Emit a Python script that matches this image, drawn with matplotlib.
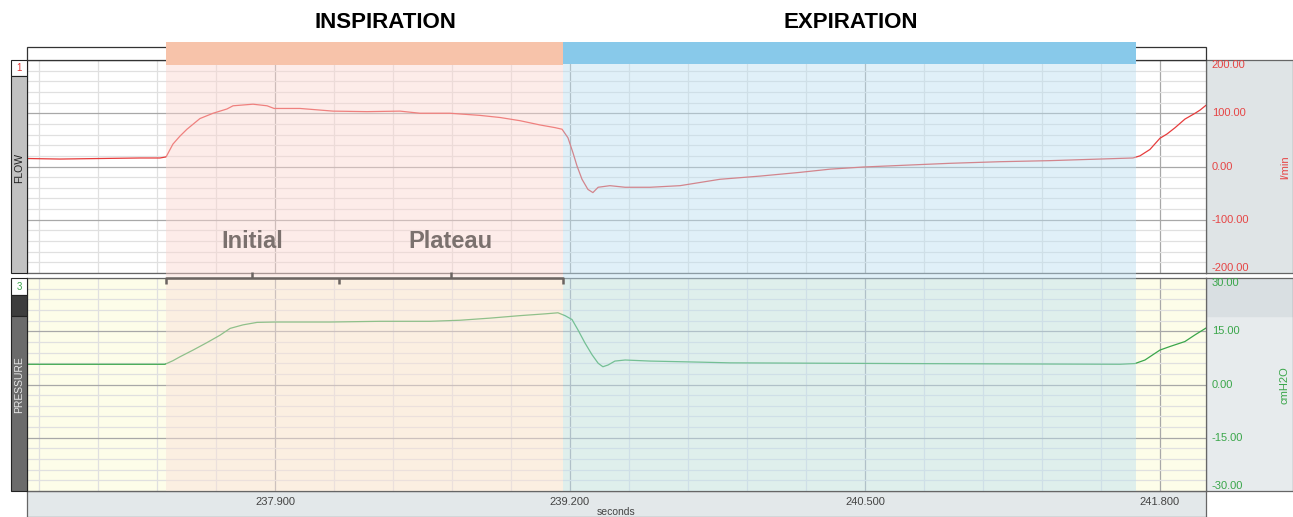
import matplotlib
matplotlib.use("Agg")
import matplotlib.pyplot as plt
from matplotlib.patches import Rectangle
from matplotlib.ticker import MultipleLocator, FixedLocator
from matplotlib.transforms import blended_transform_factory

plt.rcParams['font.family'] = ['Liberation Sans', 'DejaVu Sans']

flow_t = [236.807, 236.952, 237.129, 237.305, 237.393, 237.420, 237.450, 237.481,
          237.512, 237.569, 237.627, 237.688, 237.715, 237.803, 237.865, 237.896,
          238.010, 238.156, 238.305, 238.451, 238.539, 238.671, 238.803, 238.892,
          238.980, 239.068, 239.134, 239.165, 239.191, 239.213, 239.231, 239.253,
          239.279, 239.301, 239.324, 239.376, 239.443, 239.553, 239.685, 239.773,
          239.861, 240.038, 240.214, 240.346, 240.491, 240.655, 240.875, 241.095,
          241.316, 241.536, 241.681, 241.712, 241.756, 241.800, 241.831, 241.867,
          241.910, 241.955, 241.977, 242.003]
flow_v = [15, 14, 15, 16, 16, 18, 42, 57,
          70, 90, 100, 108, 114, 117, 114, 109,
          109, 104, 103, 104, 100, 100, 96, 92,
          86, 78, 73, 70, 54, 26, 1, -24,
          -43, -49, -39, -36, -39, -39, -36, -30,
          -24, -18, -11, -5, -1, 2, 6, 9,
          11, 14, 16, 20, 32, 53, 61, 73,
          89, 100, 106, 115]

pres_t = [236.807, 237.415, 237.450, 237.481, 237.539, 237.600, 237.658, 237.702,
          237.759, 237.821, 237.900, 238.142, 238.363, 238.583, 238.715, 238.848,
          238.980, 239.090, 239.147, 239.178, 239.209, 239.235, 239.266, 239.297,
          239.324, 239.345, 239.368, 239.398, 239.443, 239.553, 239.773, 239.905,
          240.655, 241.624, 241.690, 241.734, 241.800, 241.844, 241.910, 241.955,
          242.003]
pres_v = [5.7, 5.7, 6.7, 7.8, 9.7, 11.8, 13.9, 15.8,
          16.8, 17.5, 17.6, 17.6, 17.8, 17.8, 18.1, 18.7,
          19.4, 19.9, 20.2, 19.4, 18.3, 15.4, 11.7, 8.4,
          6.0, 5.0, 5.5, 6.6, 6.9, 6.6, 6.3, 6.1,
          5.9, 5.7, 5.9, 6.9, 9.7, 10.7, 12.1, 14.0,
          15.9]

# fases del ciclo (s)
insp_start, initial_end, insp_end, exp_end = 237.42, 238.18, 239.17, 241.695

time_ticks = [237.9, 239.2, 240.5, 241.8]
time_labels = ['237.900', '239.200', '240.500', '241.800']
flow_ticks = [200, 100, 0, -100, -200]
pres_ticks = [30, 15, 0, -15, -30]
x_range = (236.807, 242.003)

# --- figura en pixeles ---
W, H = 1293, 517
fig = plt.figure(figsize=(W / 100, H / 100), dpi=100)


def px_axes(l, t, r, b, **kw):
    return fig.add_axes([l / W, 1 - b / H, (r - l) / W, (b - t) / H], **kw)


def px_rect(l, t, r, b, fc, ec='none', lw=0.8, z=1):
    fig.add_artist(Rectangle((l / W, 1 - b / H), (r - l) / W, (b - t) / H,
                             transform=fig.transFigure, facecolor=fc,
                             edgecolor=ec, linewidth=lw, zorder=z))


def px_text(x, y, s, **kw):
    fig.text(x / W, 1 - y / H, s, **kw)


def blank(ax, fc):
    ax.set_facecolor(fc)
    ax.set_xticks([])
    ax.set_yticks([])
    for s in ax.spines.values():
        s.set_color('#666666')
        s.set_linewidth(0.9)


# paneles grises de la derecha y franja del eje x
blank(px_axes(1206, 60, 1293, 273), '#dfe4e6')
bg_p = px_axes(1206, 278, 1293, 491)
blank(bg_p, '#e7ebed')
bg_p.axhspan(0.82, 1.0, color='#d9dfe2')
bg_p.set_ylim(0, 1)
blank(px_axes(27, 491, 1206, 517), '#e3e8ea')

# franjas laterales con el nombre del canal
px_rect(11, 60, 27, 76, 'white', '#222222')
px_rect(11, 76, 27, 273, '#c2c2c2', '#222222')
px_text(19, 68, '1', color='#e03030', fontsize=7, ha='center', va='center')
px_text(19, 168, 'FLOW', color='#222222', fontsize=7.5, rotation=90, ha='center', va='center')
px_rect(11, 278, 27, 295, 'white', '#222222')
px_rect(11, 295, 27, 316, '#3d3d3d', '#222222')
px_rect(11, 316, 27, 491, '#6b6b6b', '#222222')
px_text(19, 287, '3', color='#3aa64a', fontsize=7, ha='center', va='center')
px_text(19, 385, 'PRESSURE', color='#e6e6e6', fontsize=7.5, rotation=90, ha='center', va='center')

# caja blanca superior
px_rect(27, 47, 1206, 60, 'white', '#333333', lw=0.9)


def setup(ax, ylim, major, minor, ticks, color, bg):
    ax.set_facecolor(bg)
    ax.set_xlim(x_range)
    ax.set_ylim(ylim)
    ax.xaxis.set_major_locator(FixedLocator(time_ticks))
    ax.xaxis.set_minor_locator(MultipleLocator(0.26))
    ax.yaxis.set_major_locator(MultipleLocator(major))
    ax.yaxis.set_minor_locator(MultipleLocator(minor))
    ax.grid(which='major', color='#a8a8a8', linewidth=0.9)
    ax.grid(which='minor', color='#e0e0e0', linewidth=0.9)
    ax.set_axisbelow(True)
    ax.tick_params(which='both', length=0, labelleft=False, labelbottom=False)
    for s in ax.spines.values():
        s.set_color('#666666')
        s.set_linewidth(0.9)
    tr = blended_transform_factory(ax.transAxes, ax.transData)
    for i, v in enumerate(ticks):
        va = 'top' if i == 0 else ('bottom' if i == len(ticks) - 1 else 'center')
        ax.text(1.005, v, f'{v:.2f}', transform=tr, ha='left', va=va,
                color=color, fontsize=8)


ax_f = px_axes(27, 60, 1206, 273)
setup(ax_f, (-200, 200), 100, 20, flow_ticks, '#e64545', 'white')
ax_f.plot(flow_t, flow_v, color='#e63c3c', linewidth=0.9)
px_text(1285, 167, 'l/min', color='#e64545', fontsize=8, rotation=90, ha='center', va='center')

ax_p = px_axes(27, 278, 1206, 491)
setup(ax_p, (-30, 30), 15, 3, pres_ticks, '#3aa64a', '#fdfde9')
ax_p.plot(pres_t, pres_v, color='#3aa64a', linewidth=0.9)
ax_p.set_xticks(time_ticks, labels=time_labels)
ax_p.tick_params(labelbottom=True, labelsize=8, labelcolor='#444444', pad=4)
px_text(616, 512, 'seconds', color='#444444', fontsize=7.5, ha='center', va='center')
px_text(1285, 385, 'cmH2O', color='#3aa64a', fontsize=8, rotation=90, ha='center', va='center')

# capa superior: sombreado de fases, barras, corchetes y textos (y en pixeles)
ov = px_axes(27, 42, 1206, 491, zorder=5)
ov.set_xlim(x_range)
ov.set_ylim(491, 42)
ov.axis('off')

ov.add_patch(Rectangle((insp_start, 60), insp_end - insp_start, 216,
                       facecolor='#fbd5d0', alpha=0.45, lw=0))
ov.add_patch(Rectangle((insp_start, 276), insp_end - insp_start, 215,
                       facecolor='#f9e0d9', alpha=0.45, lw=0))
ov.add_patch(Rectangle((insp_end, 60), exp_end - insp_end, 431,
                       facecolor='#bbdff0', alpha=0.45, lw=0))
ov.add_patch(Rectangle((insp_start, 42), insp_end - insp_start, 23,
                       facecolor='#f7c3aa', lw=0))
ov.add_patch(Rectangle((insp_end, 42), exp_end - insp_end, 22,
                       facecolor='#88c9ea', lw=0))

ov.text(238.385, 22, 'INSPIRATION', fontsize=16, fontweight='bold',
        ha='center', va='center', color='black')
ov.text(240.439, 22, 'EXPIRATION', fontsize=16, fontweight='bold',
        ha='center', va='center', color='black')

# corchete Initial / Plateau
br = dict(color='#6b6461', linewidth=1.8, solid_capstyle='butt')
ov.plot([insp_start, insp_start, insp_end, insp_end], [284, 278, 278, 284], **br)
ov.plot([initial_end, initial_end], [278, 284], **br)
mid_initial = (insp_start + initial_end) / 2
mid_plateau = (initial_end + insp_end) / 2
ov.plot([mid_initial, mid_initial], [278, 272], **br)
ov.plot([mid_plateau, mid_plateau], [278, 272], **br)
ov.text(mid_initial, 242, 'Initial', fontsize=17, fontweight='bold',
        ha='center', va='center', color='#7b716e')
ov.text(mid_plateau, 242, 'Plateau', fontsize=17, fontweight='bold',
        ha='center', va='center', color='#7b716e')

fig.savefig('out.png', dpi=100)
